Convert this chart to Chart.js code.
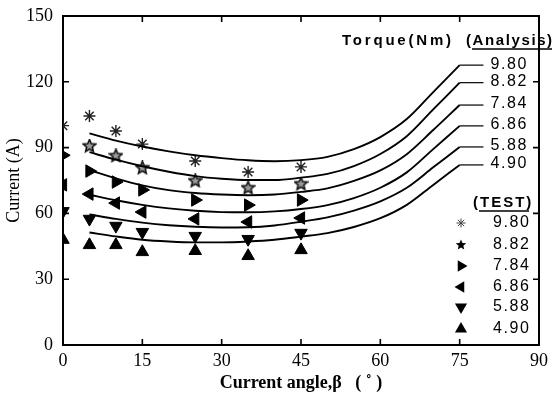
<!DOCTYPE html>
<html lang="en">
<head>
<meta charset="UTF-8">
<title>Current vs current angle</title>
<script src="https://cdn.jsdelivr.net/npm/chart.js"></script>
<style>
  body { margin: 0; background: #fff; }
  #chart { display: block; }
</style>
</head>
<body>
<canvas id="chart" width="552" height="396"></canvas>
<script>
// torque levels (Nm), same order in both groups
const torques = ['9.80', '8.82', '7.84', '6.86', '5.88', '4.90'];

// measured points (TEST)
const testAngles = [0, 5, 10, 15, 25, 35, 45];
const test980 = [100, 104.4, 97.6, 91.6, 83.9, 78.9, 81.2];
const test882 = [null, 90.7, 86.2, 80.7, 74.8, 71.6, 73.4];
const test784 = [86.5, 79.3, 74.3, 70.7, 66.1, 63.8, 66.1];
const test686 = [73, 68.8, 64.7, 60.6, 57.5, 56.1, 57.9];
const test588 = [61, 57.5, 54.3, 51.5, 49.7, 48.3, 51.1];
const test490 = [48, 45.6, 45.6, 42.4, 42.9, 40.6, 43.3];

// analysis curves
const calcAngles = [5, 10, 15, 20, 25, 30, 35, 40, 45, 50, 55, 60, 65, 70, 75];
const calc980 = [96.5, 93.2, 90.5, 88.3, 86.5, 85.2, 84.2, 83.8, 84.3, 85.8, 89.3, 94.8, 103, 115.3, 127.6];
const calc882 = [87.9, 84.5, 81.5, 79, 77, 75.8, 75.2, 75.2, 76.3, 78, 81.6, 87.1, 95.2, 107.4, 119.6];
const calc784 = [79.8, 76, 72.8, 70.6, 69.3, 68.6, 68.3, 68.6, 69.8, 71.4, 74.8, 79.6, 87, 98, 109.4];
const calc686 = [68.5, 66, 63.9, 62.3, 61.2, 60.6, 60.5, 60.9, 62, 63.8, 67, 71.7, 78.7, 89.3, 99.9];
const calc588 = [59.5, 57.5, 55.8, 54.6, 53.9, 53.6, 53.7, 54.5, 56.2, 58.2, 61.3, 65.5, 71.7, 81, 90.3];
const calc490 = [51.3, 49.5, 48, 47.2, 46.8, 46.8, 47.2, 48, 49.4, 51, 53.8, 57.8, 63.9, 73, 82.1];

// short leader lines from curve ends to the labels
const leadAngles = [75, 79.5];

const testSeries = [test980, test882, test784, test686, test588, test490];
const calcSeries = [calc980, calc882, calc784, calc686, calc588, calc490];

// marker look per torque
const markers = ['asterisk', 'star', 'right', 'left', 'down', 'up'];
const rotations = { up: 0, right: 90, down: 180, left: 270 };

function starImage(size, outer, inner, fill, stroke, lw) {
  const c = document.createElement('canvas');
  c.width = c.height = size;
  const g = c.getContext('2d');
  g.beginPath();
  for (let i = 0; i < 10; i++) {
    const r = i % 2 ? inner : outer;
    const a = -Math.PI / 2 + i * Math.PI / 5;
    g.lineTo(size / 2 + r * Math.cos(a), size / 2 + r * Math.sin(a));
  }
  g.closePath();
  g.fillStyle = fill;
  g.fill();
  g.strokeStyle = stroke;
  g.lineWidth = lw;
  g.stroke();
  return c;
}
const starPoint = starImage(15, 6.6, 3, '#9a9a9a', '#111', 1.6);

function pointOpts(m) {
  if (m === 'asterisk') return { pointStyle: 'star', pointRadius: 6, borderWidth: 1.4, borderColor: '#222', backgroundColor: '#222' };
  if (m === 'star') return { pointStyle: starPoint, pointRadius: 7 };
  return { pointStyle: 'triangle', rotation: rotations[m], pointRadius: 7.2, borderWidth: 1, borderColor: '#000', backgroundColor: '#000' };
}

const datasets = [];
torques.forEach((t, i) => {
  datasets.push({
    label: t + ' analysis',
    data: calcAngles.map((a, k) => ({ x: a, y: calcSeries[i][k] })),
    showLine: true,
    borderColor: '#000',
    borderWidth: 1.9,
    pointRadius: 0,
    cubicInterpolationMode: 'monotone',
    fill: false
  });
  const end = calcSeries[i][calcSeries[i].length - 1];
  datasets.push({
    label: t + ' lead',
    data: leadAngles.map(a => ({ x: a, y: end })),
    showLine: true,
    borderColor: '#000',
    borderWidth: 1.2,
    pointRadius: 0,
    fill: false
  });
  datasets.push(Object.assign({
    label: t + ' test',
    data: testAngles.map((a, k) => ({ x: a, y: testSeries[i][k] })).filter(p => p.y !== null),
    showLine: false,
    clip: 0
  }, pointOpts(markers[i])));
});

function drawMarker(ctx, m, cx, cy, r) {
  ctx.save();
  ctx.fillStyle = '#000';
  ctx.strokeStyle = '#444';
  ctx.lineWidth = 1;
  ctx.beginPath();
  if (m === 'asterisk') {
    for (let i = 0; i < 4; i++) {
      const a = i * Math.PI / 4;
      ctx.moveTo(cx + r * Math.cos(a), cy + r * Math.sin(a));
      ctx.lineTo(cx - r * Math.cos(a), cy - r * Math.sin(a));
    }
    ctx.stroke();
  } else if (m === 'star') {
    for (let i = 0; i < 10; i++) {
      const rr = i % 2 ? r * 0.45 : r;
      const a = -Math.PI / 2 + i * Math.PI / 5;
      ctx.lineTo(cx + rr * Math.cos(a), cy + rr * Math.sin(a));
    }
    ctx.closePath();
    ctx.fill();
  } else {
    const rot = rotations[m] * Math.PI / 180;
    for (let i = 0; i < 3; i++) {
      const a = rot + i * 2 * Math.PI / 3;
      ctx.lineTo(cx + r * Math.sin(a), cy - r * Math.cos(a));
    }
    ctx.closePath();
    ctx.fill();
  }
  ctx.restore();
}

function underlinedText(ctx, text, x, y, from, to) {
  ctx.fillText(text, x, y);
  ctx.beginPath();
  ctx.moveTo(from, y + 8);
  ctx.lineTo(to, y + 8);
  ctx.stroke();
}

const framePlugin = {
  id: 'frame',
  afterDraw(chart) {
    const { ctx, chartArea: a, scales: { x, y } } = chart;
    ctx.save();
    ctx.strokeStyle = '#000';
    ctx.lineWidth = 2;
    ctx.beginPath();
    ctx.moveTo(a.left, a.top);
    ctx.lineTo(a.right, a.top);
    ctx.lineTo(a.right, a.bottom);
    ctx.stroke();

    // inward ticks on all four sides
    const len = 6;
    ctx.lineWidth = 1.6;
    x.ticks.forEach(t => {
      if (t.value <= x.min || t.value >= x.max) return;
      const px = x.getPixelForValue(t.value);
      ctx.beginPath();
      ctx.moveTo(px, a.bottom); ctx.lineTo(px, a.bottom - len);
      ctx.moveTo(px, a.top); ctx.lineTo(px, a.top + len);
      ctx.stroke();
    });
    y.ticks.forEach(t => {
      if (t.value <= y.min || t.value >= y.max) return;
      const py = y.getPixelForValue(t.value);
      ctx.beginPath();
      ctx.moveTo(a.left, py); ctx.lineTo(a.left + len, py);
      ctx.moveTo(a.right, py); ctx.lineTo(a.right - len, py);
      ctx.stroke();
    });

    // analysis labels
    ctx.fillStyle = '#000';
    ctx.textBaseline = 'middle';
    ctx.textAlign = 'left';
    ctx.font = 'bold 15px "Liberation Sans", Arial, sans-serif';
    ctx.letterSpacing = '2.8px';
    ctx.fillText('Torque(Nm)', a.left + 279, a.top + 25);
    ctx.letterSpacing = '1.6px';
    ctx.lineWidth = 1.5;
    underlinedText(ctx, '(Analysis)', a.left + 403, a.top + 25, a.left + 409, a.left + 489);

    ctx.font = '16px "Liberation Sans", Arial, sans-serif';
    ctx.letterSpacing = '1.6px';
    const labelX = x.getPixelForValue(leadAngles[1]) + 7;
    torques.forEach((t, i) => {
      const end = calcSeries[i][calcSeries[i].length - 1];
      ctx.fillText(t, labelX, y.getPixelForValue(end) - 1);
    });

    // TEST legend
    ctx.font = 'bold 15px "Liberation Sans", Arial, sans-serif';
    ctx.letterSpacing = '2px';
    underlinedText(ctx, '(TEST)', a.left + 410, a.top + 187, a.left + 416, a.left + 466);
    ctx.font = '16px "Liberation Sans", Arial, sans-serif';
    ctx.letterSpacing = '1.6px';
    const rowY = [223, 245, 266, 287, 307, 329];
    const sizes = [4.5, 5.5, 6.5, 6.5, 7, 7];
    torques.forEach((t, i) => {
      drawMarker(ctx, markers[i], a.left + 398, rowY[i], sizes[i]);
      ctx.fillText(t, a.left + 430, rowY[i]);
    });
    ctx.restore();
  }
};

const serif = '"Liberation Serif", "Times New Roman", serif';

new Chart(document.getElementById('chart'), {
  type: 'scatter',
  data: { datasets },
  options: {
    responsive: false,
    animation: false,
    devicePixelRatio: 1,
    layout: { padding: { top: 16, right: 13, left: 0, bottom: 0 } },
    plugins: { legend: { display: false }, tooltip: { enabled: false } },
    scales: {
      x: {
        type: 'linear',
        min: 0,
        max: 90,
        ticks: { stepSize: 15, color: '#000', padding: 5, font: { family: serif, size: 18 } },
        grid: { display: false, drawTicks: false },
        border: { display: true, color: '#000', width: 2 },
        title: {
          display: true,
          text: 'Current angle,β   ( ˚ )',
          color: '#000',
          font: { family: serif, size: 18, weight: 'bold' },
          padding: { top: 0, bottom: 2 }
        },
        afterFit: s => { s.height = 51; s.paddingLeft = 0; s.paddingRight = 0; }
      },
      y: {
        min: 0,
        max: 150,
        ticks: { stepSize: 30, color: '#000', padding: 10, font: { family: serif, size: 18 } },
        grid: { display: false, drawTicks: false },
        border: { display: true, color: '#000', width: 2 },
        title: {
          display: true,
          text: 'Current (A)',
          color: '#000',
          font: { family: serif, size: 18 },
          padding: { top: 3, bottom: 0 }
        },
        afterFit: s => { s.width = 63; s.paddingTop = 0; s.paddingBottom = 0; }
      }
    }
  },
  plugins: [framePlugin]
});
</script>
</body>
</html>
